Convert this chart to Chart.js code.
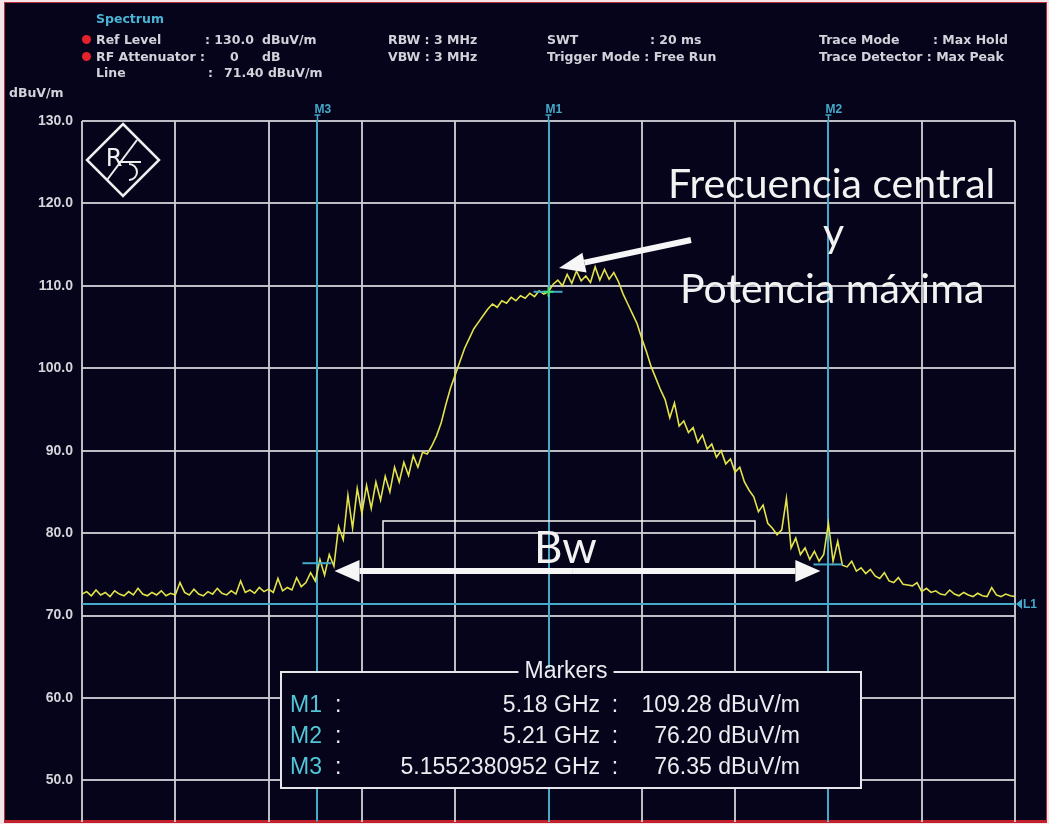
<!DOCTYPE html>
<html>
<head>
<meta charset="utf-8">
<script src="https://cdn.jsdelivr.net/npm/chart.js@4.4.1/dist/chart.umd.min.js"></script>
<style>
html, body { margin: 0; padding: 0; width: 1049px; height: 824px; overflow: hidden; background: #f4e6e8; }
#screen { position: absolute; left: 4px; top: 2px; width: 1041px; height: 817px; background: #05041a; border: 1px solid #b8303c; border-bottom: 3px solid #c0202c; }
#chart { position: absolute; left: 0; top: 0; }
.hdr { position: absolute; font: bold 12.5px 'DejaVu Sans', sans-serif; color: #d2d2da; white-space: pre; line-height: 14px; }
.dot { position: absolute; width: 9px; height: 9px; border-radius: 50%; background: #e3222c; }
.note { position: absolute; font: 41px Lato, sans-serif; color: #f2f2f2; white-space: pre; line-height: 1; }
</style>
</head>
<body>
<div id="screen"></div>
<!-- canvas runs a little past the window so the plot reaches the bottom edge -->
<canvas id="chart" width="1049" height="839"></canvas>

<div class="hdr" style="left:96px;top:12px;color:#4bb4d4">Spectrum</div>
<div class="dot" style="left:82px;top:35px"></div>
<div class="dot" style="left:82px;top:52px"></div>
<div class="hdr" style="left:96px;top:33px">Ref Level</div>
<div class="hdr" style="left:205px;top:33px">: 130.0</div>
<div class="hdr" style="left:262px;top:33px">dBuV/m</div>
<div class="hdr" style="left:96px;top:50px">RF Attenuator :</div>
<div class="hdr" style="left:230px;top:50px">0</div>
<div class="hdr" style="left:262px;top:50px">dB</div>
<div class="hdr" style="left:96px;top:66px">Line</div>
<div class="hdr" style="left:208px;top:66px">:</div>
<div class="hdr" style="left:224px;top:66px">71.40 dBuV/m</div>
<div class="hdr" style="left:388px;top:33px">RBW : 3 MHz</div>
<div class="hdr" style="left:388px;top:50px">VBW : 3 MHz</div>
<div class="hdr" style="left:547px;top:33px">SWT</div>
<div class="hdr" style="left:650px;top:33px">: 20 ms</div>
<div class="hdr" style="left:547px;top:50px">Trigger Mode : Free Run</div>
<div class="hdr" style="left:819px;top:33px">Trace Mode</div>
<div class="hdr" style="left:933px;top:33px">: Max Hold</div>
<div class="hdr" style="left:819px;top:50px">Trace Detector : Max Peak</div>
<div class="hdr" style="left:9px;top:86px">dBuV/m</div>

<div class="note" style="left:668px;top:162px">Frecuencia central</div>
<div class="note" style="left:823px;top:211px">y</div>
<div class="note" style="left:680px;top:267px">Potencia máxima</div>
<div class="note" style="left:534px;top:524px;font-size:44px">Bw</div>

<script>
// sweep: 5.13 .. 5.23 GHz, 0.5 MHz per trace point
const traceStartMHz = 5130;
const traceStepMHz = 0.5;
const traceLevels = [
  72.6, 72.9, 72.4, 73.1, 72.5, 72.8, 72.3, 73.0, 72.6, 72.4,
  72.9, 72.5, 73.3, 72.6, 72.4, 72.8, 72.5, 73.0, 72.4, 72.7,
  72.5, 74.0, 72.8, 72.5, 73.2, 72.6, 72.4, 72.9, 72.6, 73.3,
  72.7, 72.5, 73.0, 72.6, 74.2, 72.8, 73.1, 72.7, 73.4, 72.9,
  73.2, 72.8, 74.5, 73.0, 73.4, 73.1, 74.6, 73.5, 74.0, 75.2,
  74.2, 76.8, 74.9, 77.4, 76.0, 80.8, 79.2, 84.6, 80.6, 85.4,
  82.4, 85.8, 83.0, 86.2, 84.0, 86.9, 85.0, 88.0, 86.2, 88.6,
  87.0, 89.4, 88.0, 89.8, 89.6, 90.6, 91.8, 93.4, 95.6, 97.6,
  99.2, 100.8, 102.4, 103.6, 104.8, 105.6, 106.4, 107.2, 107.8, 107.4,
  108.2, 107.9, 108.6, 108.2, 108.8, 108.5, 109.1, 108.7, 109.4, 109.0,
  109.3, 110.2, 110.7, 110.0, 111.4, 110.3, 111.8, 110.6, 111.2, 110.4,
  112.3, 110.7, 112.0, 110.8, 111.6, 110.5, 109.0, 107.8, 106.6, 105.4,
  103.6, 102.0, 100.2, 98.8, 97.4, 96.2, 94.0, 95.8, 93.0, 93.6,
  92.2, 92.8, 91.0, 91.9, 90.2, 90.8, 89.2, 90.0, 88.4, 89.0,
  87.4, 88.0, 86.2, 85.2, 84.4, 82.6, 83.4, 81.2, 80.6, 79.8,
  80.4, 84.2, 78.2, 79.4, 77.4, 78.2, 76.8, 77.8, 76.6, 77.4,
  81.2, 76.6, 79.0, 76.1, 75.9, 76.6, 75.4, 75.8, 75.1, 75.6,
  74.8, 74.5, 75.2, 74.2, 74.0, 74.6, 73.8, 73.7, 73.6, 74.0,
  72.9, 73.3, 72.8, 73.0, 72.6, 72.5, 73.1, 72.6, 72.4, 72.8,
  72.5, 72.3, 72.7, 72.4, 72.3, 73.4, 72.5, 72.3, 72.6, 72.4,
  72.3
];

const markerNames = ['M1', 'M2', 'M3'];
const markerFreqMHz = [5180, 5210, 5155.2380952];
const markerFreqText = ['5.18 GHz', '5.21 GHz', '5.1552380952 GHz'];
const markerLevels = [109.28, 76.20, 76.35];

const limitLevel = 71.40;
const yTicks = [50, 60, 70, 80, 90, 100, 110, 120, 130];

const CYAN = '#45a9c9';
const GRID = 'rgba(205,205,212,0.92)';
const BG = '#05041a';

function seg(ctx, x1, y1, x2, y2) {
    ctx.beginPath(); ctx.moveTo(x1, y1); ctx.lineTo(x2, y2); ctx.stroke();
}

// thick arrow with a triangular head at (x2,y2)
function arrow(ctx, x1, y1, x2, y2, w, headLen, headW) {
    const ang = Math.atan2(y2 - y1, x2 - x1);
    const bx = x2 - headLen * Math.cos(ang), by = y2 - headLen * Math.sin(ang);
    ctx.lineWidth = w;
    seg(ctx, x1, y1, bx, by);
    ctx.beginPath();
    ctx.moveTo(x2, y2);
    ctx.lineTo(bx + headW / 2 * Math.sin(ang), by - headW / 2 * Math.cos(ang));
    ctx.lineTo(bx - headW / 2 * Math.sin(ang), by + headW / 2 * Math.cos(ang));
    ctx.closePath();
    ctx.fill();
}

const overlay = {
    id: 'overlay',
    beforeDatasetsDraw(chart) {
        const { ctx, chartArea: a, scales: { x, y } } = chart;
        ctx.save();
        ctx.strokeStyle = CYAN;
        ctx.lineWidth = 2;
        // limit line L1
        const yl = Math.round(y.getPixelForValue(limitLevel));
        seg(ctx, a.left, yl, a.right, yl);
        // marker lines
        markerFreqMHz.forEach(f => {
            const px = Math.round(x.getPixelForValue(f));
            seg(ctx, px, a.top, px, a.bottom);
        });
        ctx.restore();
    },
    afterDatasetsDraw(chart) {
        const { ctx, chartArea: a, scales: { x, y } } = chart;
        ctx.save();

        // marker level ticks + M1 cross
        markerFreqMHz.forEach((f, i) => {
            const px = x.getPixelForValue(f), py = y.getPixelForValue(markerLevels[i]);
            ctx.strokeStyle = CYAN; ctx.lineWidth = 2;
            seg(ctx, px - 15, py, px + 14, py);
            if (i === 0) {
                ctx.strokeStyle = '#3fe27a';
                seg(ctx, px - 5, py, px + 5, py);
                seg(ctx, px, py - 5, px, py + 5);
            }
            // label on top
            ctx.fillStyle = CYAN;
            ctx.font = 'bold 12px "Liberation Sans", sans-serif';
            ctx.textBaseline = 'alphabetic';
            ctx.textAlign = 'left';
            ctx.fillText(markerNames[i], px - 3, a.top - 8);
            ctx.strokeStyle = CYAN; ctx.lineWidth = 1.5;
            seg(ctx, px - 3, a.top - 6, px + 3, a.top - 6);
            seg(ctx, px, a.top - 6, px, a.top);
        });

        // L1 label
        const yl = y.getPixelForValue(limitLevel);
        ctx.fillStyle = CYAN;
        ctx.beginPath();
        ctx.moveTo(a.right + 1, yl); ctx.lineTo(a.right + 7, yl - 5); ctx.lineTo(a.right + 7, yl + 5);
        ctx.closePath(); ctx.fill();
        ctx.font = 'bold 12px "Liberation Sans", sans-serif';
        ctx.textBaseline = 'middle';
        ctx.fillText('L1', a.right + 8, yl + 1);

        // R&S logo
        const cx = a.left + 41, cy = a.top + 39, r = 36;
        ctx.strokeStyle = '#eeeeee'; ctx.lineWidth = 2.5;
        ctx.beginPath();
        ctx.moveTo(cx, cy - r); ctx.lineTo(cx + r, cy); ctx.lineTo(cx, cy + r); ctx.lineTo(cx - r, cy);
        ctx.closePath(); ctx.stroke();
        ctx.lineWidth = 2;
        seg(ctx, cx - 4, cy + 2, cx + r / 2, cy + 2);
        seg(ctx, cx + r / 2 - 4, cy - r / 2 - 2, cx - r / 2 + 2, cy + r / 2 + 2);
        ctx.beginPath(); ctx.arc(cx + 6, cy + 12, 8, -Math.PI / 2, Math.PI / 2); ctx.stroke();
        ctx.fillStyle = '#eeeeee';
        ctx.font = '24px "DejaVu Sans", sans-serif';
        ctx.textAlign = 'center';
        ctx.textBaseline = 'alphabetic';
        ctx.fillText('R', cx - 9, cy + 6);

        // Bw box and double arrow
        const m3x = x.getPixelForValue(markerFreqMHz[2]);
        const m2x = x.getPixelForValue(markerFreqMHz[1]);
        ctx.strokeStyle = '#f4f4f4'; ctx.lineWidth = 1.5;
        ctx.strokeRect(383, 521, 372, 48);
        ctx.fillStyle = '#f6f6f6'; ctx.strokeStyle = '#f6f6f6';
        const ay = 571;
        arrow(ctx, (m3x + m2x) / 2, ay, m3x + 17, ay, 6, 25, 22);
        arrow(ctx, (m3x + m2x) / 2, ay, m2x - 8, ay, 6, 25, 22);

        // arrow pointing to the peak
        arrow(ctx, 691, 240, 559, 268, 6, 26, 20);

        // marker table
        const bl = 281, bt = 672, br = 861, bb = 788;
        ctx.fillStyle = BG;
        ctx.fillRect(bl - 1, bt - 1, br - bl + 2, bb - bt + 2);
        ctx.strokeStyle = '#e6e6ea'; ctx.lineWidth = 2;
        ctx.strokeRect(bl, bt, br - bl, bb - bt);
        ctx.font = '23px "Liberation Sans", sans-serif';
        ctx.textAlign = 'center';
        ctx.textBaseline = 'middle';
        const tw = ctx.measureText('Markers').width + 12;
        ctx.fillStyle = BG;
        ctx.fillRect(566 - tw / 2, bt - 4, tw, 8);
        ctx.fillStyle = '#ececf0';
        ctx.fillText('Markers', 566, bt);
        markerNames.forEach((n, i) => {
            const ry = 706 + i * 31;
            ctx.textAlign = 'left';
            ctx.fillStyle = '#52c6d6';
            ctx.fillText(n, 290, ry);
            ctx.fillStyle = '#ececf0';
            ctx.fillText(':', 335, ry);
            ctx.textAlign = 'right';
            ctx.fillText(markerFreqText[i], 600, ry);
            ctx.textAlign = 'center';
            ctx.fillText(':', 615, ry);
            ctx.textAlign = 'right';
            ctx.fillText(markerLevels[i].toFixed(2) + ' dBuV/m', 800, ry);
        });

        ctx.restore();
    }
};

const traceData = traceLevels.map((v, i) => ({ x: traceStartMHz + i * traceStepMHz, y: v }));

new Chart(document.getElementById('chart'), {
    type: 'line',
    data: {
        datasets: [{
            data: traceData,
            borderColor: '#e2e24a',
            borderWidth: 1.6,
            pointRadius: 0,
            tension: 0
        }]
    },
    options: {
        responsive: false,
        devicePixelRatio: 1,
        animation: false,
        layout: { padding: { top: 121, right: 34, bottom: 2, left: 0 } },
        plugins: { legend: { display: false }, tooltip: { enabled: false } },
        scales: {
            x: {
                type: 'linear',
                min: 5130,
                max: 5230,
                ticks: { display: false, stepSize: 10 },
                grid: { color: GRID, lineWidth: 2, drawTicks: false },
                border: { display: false },
                afterFit: s => { s.height = 0; }
            },
            y: {
                min: 45,
                max: 130,
                afterBuildTicks: s => { s.ticks = yTicks.map(v => ({ value: v })); },
                ticks: {
                    color: '#d4d4da',
                    padding: 9,
                    font: { family: 'Liberation Sans', size: 14, weight: 'bold' },
                    callback: v => v.toFixed(1)
                },
                grid: { color: GRID, lineWidth: 2, drawTicks: false },
                border: { display: false },
                afterFit: s => { s.width = 82; }
            }
        }
    },
    plugins: [overlay]
});
</script>
</body>
</html>
